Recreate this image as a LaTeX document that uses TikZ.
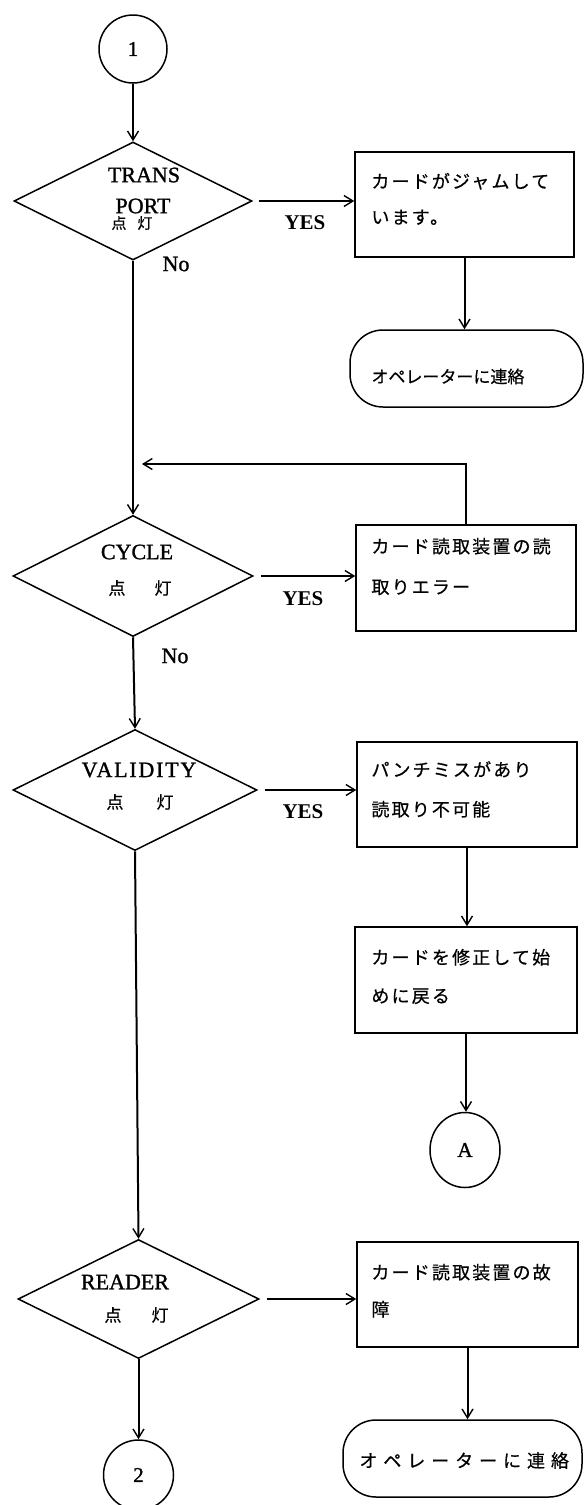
\documentclass[tikz,border=0pt]{standalone}
\usepackage{fontspec}
\setmainfont{Liberation Serif}
\newfontfamily\heavy[FakeBold=1.2]{Liberation Serif}
\newfontfamily\jp[FakeBold=0.5]{Noto Sans CJK JP}
\newfontfamily\jpbox[LetterSpace=12,FakeBold=0.5]{Noto Sans CJK JP}
\newfontfamily\jpwide[LetterSpace=33,FakeBold=0.5]{Noto Sans CJK JP}
\usetikzlibrary{arrows.meta,shapes.geometric,calc}

\begin{document}
\begin{tikzpicture}[x=1pt,y=-1pt,
  shapeline/.style={draw=black,line width=1.5pt},
  decision/.style={shapeline,diamond,inner sep=0pt},
  proc/.style={shapeline,rectangle,inner sep=0pt},
  term/.style={shapeline,rectangle,rounded corners=33pt,inner sep=0pt,minimum height=77pt},
  conn/.style={shapeline,ellipse,inner sep=0pt,font=\fontsize{21}{24}\selectfont\heavy},
  flow/.style={draw=black,line width=2pt,-{Straight Barb[length=9pt,width=11pt,line width=1.4pt]}},
  lat/.style={font=\fontsize{22}{24}\selectfont\heavy,inner sep=0pt},
  yes/.style={font=\fontsize{21}{24}\selectfont\bfseries,inner sep=0pt},
  jpline/.style={font=\fontsize{18}{20}\selectfont\jpbox,inner sep=0pt,anchor=west},
  lamp/.style={font=\fontsize{17}{18}\selectfont\jp,inner sep=0pt},
]
% page
\useasboundingbox[fill=white] (0,0) rectangle (585,1505);

% ---------- left column: status lamps ----------
\node[conn,minimum width=68pt,minimum height=68pt] (c1) at (133,49) {1};

\node[decision,minimum width=238pt,minimum height=118pt] (d1) at (133,201) {};
\node[lat] (d1a) at (144,175) {TRANS};
\node[lat] (d1b) at (143,206) {PORT};
\node[lamp,font=\fontsize{15}{16}\selectfont\jp] (d1c) at (132,223) {点\hspace{11pt}灯};

\node[decision,minimum width=240pt,minimum height=121pt] (d2) at (133,576) {};
\node[lat] (d2a) at (137,552) {CYCLE};
\node[lamp] (d2c) at (140,588) {点\hspace{29pt}灯};

\node[decision,minimum width=244pt,minimum height=121pt] (d3) at (135,790) {};
\node[lat,font=\fontsize{22}{24}\selectfont\heavy\addfontfeature{LetterSpace=8}] (d3a) at (139,770) {VALIDITY};
\node[lamp] (d3c) at (140,802) {点\hspace{33pt}灯};

\node[decision,minimum width=241pt,minimum height=119pt] (d4) at (138.5,1299) {};
\node[lat] (d4a) at (125,1282) {READER};
\node[lamp] (d4c) at (136.5,1315) {点\hspace{30pt}灯};

\node[conn,minimum width=70pt,minimum height=70pt] (c2) at (138.5,1475) {2};

\node[lat] (no1) at (176,264) {No};
\node[lat] (no2) at (175,656) {No};

% ---------- right column: actions ----------
\node[proc,minimum width=219pt,minimum height=105pt] (b1) at (464.5,204.5) {};
\node[jpline] (b1a) at ($(b1.north west)+(17,30)$) {カードがジャムして};
\node[jpline] (b1b) at ($(b1.north west)+(17,66)$) {います。};

\node[term,minimum width=233pt] (t1) at (466.5,368.5) {};
\node[jpline,font=\fontsize{17}{20}\selectfont\jp] (t1a) at ($(t1.west)+(22,8)$) {オペレーターに連絡};

\node[proc,minimum width=220pt,minimum height=106pt] (b2) at (466,578) {};
\node[jpline] (b2a) at ($(b2.north west)+(16,22)$) {カード読取装置の読};
\node[jpline] (b2b) at ($(b2.north west)+(16,63)$) {取りエラー};

\node[proc,minimum width=220pt,minimum height=105pt] (b3) at (467,794.5) {};
\node[jpline] (b3a) at ($(b3.north west)+(15,28)$) {パンチミスがあり};
\node[jpline] (b3b) at ($(b3.north west)+(15,68)$) {読取り不可能};

\node[proc,minimum width=222pt,minimum height=106pt] (b4) at (466,980) {};
\node[jpline] (b4a) at ($(b4.north west)+(17,31)$) {カードを修正して始};
\node[jpline] (b4b) at ($(b4.north west)+(17,70)$) {めに戻る};

\node[conn,minimum width=70pt,minimum height=75pt] (cA) at (465,1150) {A};

\node[proc,minimum width=221pt,minimum height=105pt] (b5) at (467.5,1294.5) {};
\node[jpline] (b5a) at ($(b5.north west)+(15,31)$) {カード読取装置の故};
\node[jpline] (b5b) at ($(b5.north west)+(15,68)$) {障};

\node[term,minimum width=239pt] (t2) at (462.5,1458.5) {};
\node[jpline,font=\fontsize{18}{20}\selectfont\jpwide] (t2a) at ($(t2.west)+(17,2)$) {オペレーターに連絡};

% YES labels
\node[yes] (y1) at (305,223) {YES};
\node[yes] (y2) at (303,599) {YES};
\node[yes] (y3) at (303,812) {YES};

% ---------- connectors ----------
\coordinate (join) at (142,464);
\draw[flow] (c1.south) -- (d1.north);
\draw[flow] (d1.south) -- (d2.north);
\draw[flow] (d2.south) -- (d3.north);
\draw[flow] (d3.south) -- (d4.north);
\draw[flow] (d4.south) -- (c2.north);

\draw[flow,shorten <=6pt] (d1.east) -- (b1.west |- d1.east);
\draw[flow,shorten <=7pt] (d2.east) -- (b2.west |- d2.east);
\draw[flow,shorten <=7pt] (d3.east) -- (b3.west |- d3.east);
\draw[flow,shorten <=7pt] (d4.east) -- (b5.west |- d4.east);

\draw[flow] (b2.north) |- (join);

\draw[flow] (b1.south) -- (b1.south |- t1.north);
\draw[flow] (b3.south) -- (b3.south |- b4.north);
\draw[flow] (b4.south) -- (b4.south |- cA.north);
\draw[flow] (b5.south) -- (b5.south |- t2.north);
\end{tikzpicture}
\end{document}
